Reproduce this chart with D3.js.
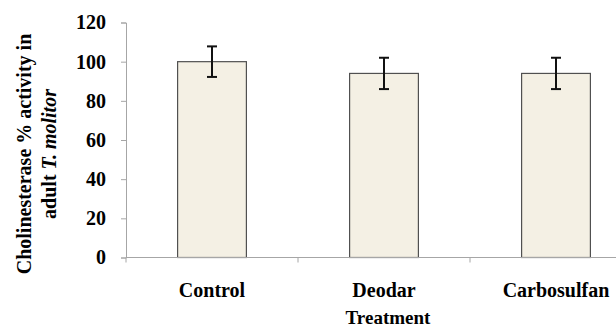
<!DOCTYPE html>
<html><head><meta charset="utf-8">
<script src="https://cdn.jsdelivr.net/npm/d3@7"></script>
<style>
html,body{margin:0;padding:0;background:#fff;}
text{font-family:"Liberation Serif","Times New Roman",serif;font-weight:bold;fill:#000;}
</style></head>
<body><svg id="c" width="616" height="328"></svg>
<script>
const categories = ["Control", "Deodar", "Carbosulfan"];
const values = [100, 94, 94];
const errors = [7.8, 8, 8];
const yTicks = [0, 20, 40, 60, 80, 100, 120];

const svg = d3.select("#c");
const x0 = 126, x1 = 642, yTop = 22.5, yBot = 257.5;
const x = d3.scaleBand().domain(categories).range([x0, x1]).paddingInner(0.6).paddingOuter(0.3);
const y = d3.scaleLinear().domain([0, 120]).range([yBot, yTop]);
const axisColor = "#a6a6a6";

// y axis
const ya = svg.append("g").attr("transform", `translate(${x0},0)`)
  .call(d3.axisLeft(y).tickValues(yTicks).tickSize(5).tickPadding(15));
ya.select(".domain").attr("stroke", axisColor);
ya.selectAll(".tick line").attr("stroke", axisColor);
ya.selectAll(".tick text").style("font-size", "20px").attr("fill", "#000");

// bars
svg.append("g").selectAll("rect").data(categories).join("rect")
  .attr("x", d => x(d)).attr("width", x.bandwidth())
  .attr("y", (d, i) => y(values[i])).attr("height", (d, i) => yBot - y(values[i]))
  .attr("fill", "#f4f0e4").attr("stroke", "#505050").attr("stroke-width", 1.2);

// x axis
const xa = svg.append("g").attr("transform", `translate(0,${yBot})`);
xa.append("line").attr("x1", x0).attr("x2", x1).attr("y1", 0).attr("y2", 0).attr("stroke", axisColor);
const step = x.step();
const bounds = [0, 1, 2, 3].map(i => x0 + i * step);
xa.selectAll("line.tk").data(bounds).join("line").attr("class", "tk")
  .attr("x1", d => d).attr("x2", d => d).attr("y1", 0).attr("y2", 5).attr("stroke", axisColor);
xa.selectAll("text").data(categories).join("text")
  .attr("x", d => x(d) + x.bandwidth() / 2).attr("y", 39.5)
  .attr("text-anchor", "middle").style("font-size", "20px").text(d => d);

// error bars
const eb = svg.append("g").attr("stroke", "#111").attr("stroke-width", 2);
categories.forEach((c, i) => {
  const cx = x(c) + x.bandwidth() / 2;
  const t = y(values[i] + errors[i]), b = y(values[i] - errors[i]);
  eb.append("line").attr("x1", cx).attr("x2", cx).attr("y1", t).attr("y2", b);
  eb.append("line").attr("x1", cx - 5).attr("x2", cx + 5).attr("y1", t).attr("y2", t);
  eb.append("line").attr("x1", cx - 5).attr("x2", cx + 5).attr("y1", b).attr("y2", b);
});

// axis titles
svg.append("text").attr("x", 388).attr("y", 324).attr("text-anchor", "middle")
  .style("font-size", "19px").text("Treatment");
const yl = svg.append("text").attr("transform", "translate(0,154) rotate(-90)").attr("text-anchor", "middle")
  .style("font-size", "20px");
yl.append("tspan").attr("x", 0).attr("y", 31).text("Cholinesterase % activity in");
const t2 = yl.append("tspan").attr("x", 0).attr("y", 56);
t2.append("tspan").text("adult ");
t2.append("tspan").attr("font-style", "italic").text("T. molitor");
</script></body></html>
